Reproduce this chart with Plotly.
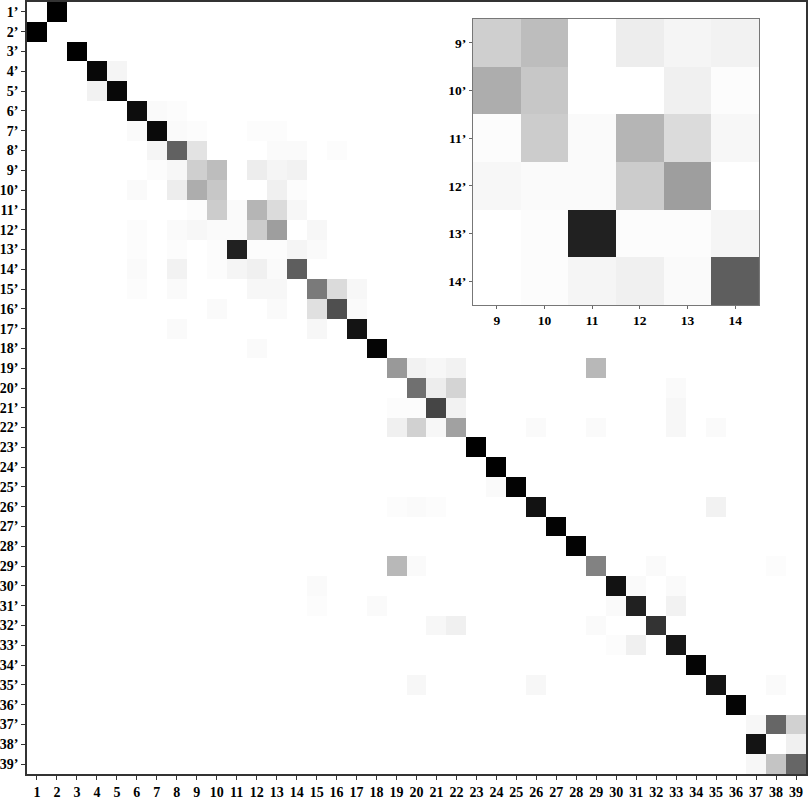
import numpy as np
import plotly.graph_objects as go

n_classes = 39
pred_labels = [str(i) for i in range(1, n_classes + 1)]
true_labels = [f"{i}’" for i in range(1, n_classes + 1)]

# strongest cell of every row (row, column, score)
peak_rows = [1, 2, 3, 4, 5, 6, 7, 8, 13, 14, 15, 16, 17, 18, 19, 20, 21, 22, 23, 24,
             25, 26, 27, 28, 29, 30, 31, 32, 33, 34, 35, 36, 37, 38, 39]
peak_cols = [2, 1, 3, 4, 5, 6, 7, 8, 11, 14, 15, 16, 17, 18, 19, 20, 21, 22, 23, 24,
             25, 26, 27, 28, 29, 30, 31, 32, 33, 34, 35, 36, 38, 37, 39]
peak_vals = [1.0, 1.0, 1.0, 0.97, 0.97, 0.95, 0.96, 0.62, 0.87, 0.63, 0.52, 0.69, 0.92, 0.98,
             0.40, 0.56, 0.73, 0.37, 1.0, 1.0, 0.99, 0.93, 0.99, 0.99, 0.49, 0.93, 0.87,
             0.80, 0.91, 0.98, 0.92, 0.98, 0.60, 0.92, 0.60]

# zoomed block: rows 9'-14', columns 9-14
zoom_rows = [9, 10, 11, 12, 13, 14]
zoom_cols = [9, 10, 11, 12, 13, 14]
zoom_block = [
    [0.19, 0.26, 0.00, 0.07, 0.04, 0.05],
    [0.32, 0.22, 0.00, 0.00, 0.06, 0.01],
    [0.01, 0.20, 0.02, 0.29, 0.14, 0.03],
    [0.03, 0.02, 0.02, 0.20, 0.38, 0.00],
    [0.00, 0.01, 0.87, 0.01, 0.01, 0.04],
    [0.00, 0.01, 0.04, 0.06, 0.02, 0.63],
]

# weaker confusions elsewhere (row, column, score)
minor_cells = [
    (4, 5, 0.04), (5, 4, 0.05), (6, 7, 0.02), (6, 8, 0.01), (7, 6, 0.02), (7, 8, 0.02),
    (7, 9, 0.01), (7, 12, 0.01), (7, 13, 0.01), (8, 7, 0.04), (8, 9, 0.11), (8, 13, 0.02),
    (8, 14, 0.02), (8, 16, 0.01), (9, 7, 0.01), (9, 8, 0.03), (10, 6, 0.02), (10, 8, 0.07),
    (12, 6, 0.01), (12, 8, 0.02), (12, 15, 0.03), (13, 6, 0.01), (13, 8, 0.01), (13, 15, 0.02),
    (14, 6, 0.02), (14, 8, 0.05), (15, 6, 0.01), (15, 8, 0.02), (15, 12, 0.03), (15, 13, 0.03),
    (15, 16, 0.14), (15, 17, 0.03), (16, 10, 0.02), (16, 13, 0.02), (16, 15, 0.12), (16, 17, 0.02),
    (17, 8, 0.02), (17, 15, 0.03), (18, 12, 0.02), (19, 20, 0.05), (19, 21, 0.03), (19, 22, 0.05),
    (19, 29, 0.28), (20, 21, 0.07), (20, 22, 0.17), (20, 33, 0.02), (21, 19, 0.01), (21, 20, 0.01),
    (21, 22, 0.05), (21, 33, 0.03), (22, 19, 0.06), (22, 20, 0.18), (22, 21, 0.03), (22, 26, 0.02),
    (22, 29, 0.02), (22, 33, 0.03), (22, 35, 0.02), (25, 24, 0.02), (26, 19, 0.01), (26, 20, 0.02),
    (26, 21, 0.01), (26, 35, 0.05), (29, 19, 0.28), (29, 20, 0.02), (29, 32, 0.02), (29, 38, 0.01),
    (30, 15, 0.02), (30, 31, 0.02), (30, 33, 0.02), (31, 15, 0.01), (31, 18, 0.02), (31, 30, 0.02),
    (31, 33, 0.05), (32, 21, 0.03), (32, 22, 0.06), (32, 29, 0.02), (33, 30, 0.01), (33, 31, 0.06),
    (35, 20, 0.03), (35, 26, 0.03), (35, 38, 0.02), (37, 37, 0.03), (37, 39, 0.18), (38, 39, 0.06),
    (39, 37, 0.03), (39, 38, 0.23),
]

# build the full matrix
z = np.zeros((n_classes, n_classes))
for r, c, v in zip(peak_rows, peak_cols, peak_vals):
    z[r - 1, c - 1] = v
for i, r in enumerate(zoom_rows):
    for j, c in enumerate(zoom_cols):
        z[r - 1, c - 1] = zoom_block[i][j]
for r, c, v in minor_cells:
    z[r - 1, c - 1] = v

gray = [[0, "white"], [1, "black"]]
tick_font = dict(family="Liberation Serif", size=14, color="black", weight="bold")
inset_font = dict(family="Liberation Serif", size=13.5, color="black", weight="bold")

fig = go.Figure()
fig.add_trace(go.Heatmap(
    z=z, x=list(range(1, n_classes + 1)), y=list(range(1, n_classes + 1)),
    colorscale=gray, zmin=0, zmax=1, showscale=False,
    xaxis="x", yaxis="y",
))
fig.add_trace(go.Heatmap(
    z=zoom_block, x=zoom_cols, y=zoom_rows,
    colorscale=gray, zmin=0, zmax=1, showscale=False,
    xaxis="x2", yaxis="y2",
))

fig.update_layout(
    width=809, height=799,
    margin=dict(l=27, r=3, t=2, b=25),
    paper_bgcolor="white", plot_bgcolor="white",
    xaxis=dict(
        domain=[0, 1], range=[0.5, n_classes + 0.5],
        tickvals=list(range(1, n_classes + 1)), ticktext=pred_labels,
        ticks="outside", ticklen=4, tickcolor="#333", tickfont=tick_font,
        showline=True, linecolor="#333", linewidth=1.5, mirror=True,
        showgrid=False, zeroline=False, automargin=False,
    ),
    yaxis=dict(
        domain=[0, 1], range=[n_classes + 0.5, 0.5],
        tickvals=list(range(1, n_classes + 1)), ticktext=true_labels,
        ticks="outside", ticklen=4, tickcolor="#333", tickfont=tick_font,
        showline=True, linecolor="#333", linewidth=1.5, mirror=True,
        showgrid=False, zeroline=False, automargin=False,
    ),
    xaxis2=dict(
        domain=[0.5725, 0.9397], anchor="y2", range=[8.5, 14.5],
        tickvals=zoom_cols, ticktext=[str(c) for c in zoom_cols],
        ticks="outside", ticklen=3, tickcolor="#666", tickfont=inset_font,
        showline=True, linecolor="#777", linewidth=1, mirror=True,
        showgrid=False, zeroline=False, automargin=False,
    ),
    yaxis2=dict(
        domain=[0.6075, 0.978], anchor="x2", range=[14.5, 8.5],
        tickvals=zoom_rows, ticktext=[f"{r}’" for r in zoom_rows],
        ticks="outside", ticklen=3, tickcolor="#666", tickfont=inset_font,
        showline=True, linecolor="#777", linewidth=1, mirror=True,
        showgrid=False, zeroline=False, automargin=False,
    ),
)

# page body has an 8px default margin, drop it so the figure fills the window
fig.write_html("out.html", config={"displayModeBar": False},
               post_script="document.body.style.margin='0px';")
